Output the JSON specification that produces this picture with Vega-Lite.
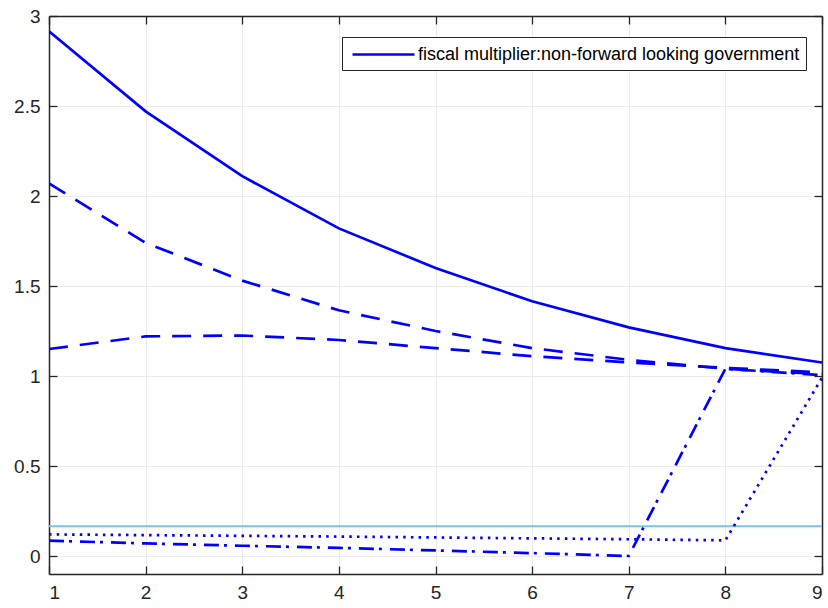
{
  "$schema": "https://vega.github.io/schema/vega-lite/v6.json",
  "width": 773,
  "height": 558,
  "autosize": {"type": "none"},
  "padding": {"left": 49, "top": 16, "right": 6, "bottom": 34},
  "background": "white",
  "config": {
    "view": {"stroke": null},
    "font": "Liberation Sans"
  },
  "datasets": {
    "lines": [
      {"x": 1, "y": 2.915, "s": "fiscal multiplier:non-forward looking government"},
      {"x": 2, "y": 2.47, "s": "fiscal multiplier:non-forward looking government"},
      {"x": 3, "y": 2.11, "s": "fiscal multiplier:non-forward looking government"},
      {"x": 4, "y": 1.82, "s": "fiscal multiplier:non-forward looking government"},
      {"x": 5, "y": 1.6, "s": "fiscal multiplier:non-forward looking government"},
      {"x": 6, "y": 1.415, "s": "fiscal multiplier:non-forward looking government"},
      {"x": 7, "y": 1.27, "s": "fiscal multiplier:non-forward looking government"},
      {"x": 8, "y": 1.155, "s": "fiscal multiplier:non-forward looking government"},
      {"x": 9, "y": 1.075, "s": "fiscal multiplier:non-forward looking government"}
    ],
    "others": [
      {"x": 1, "y": 2.07, "s": "dashA"},
      {"x": 2, "y": 1.74, "s": "dashA"},
      {"x": 3, "y": 1.53, "s": "dashA"},
      {"x": 4, "y": 1.365, "s": "dashA"},
      {"x": 5, "y": 1.25, "s": "dashA"},
      {"x": 6, "y": 1.155, "s": "dashA"},
      {"x": 7, "y": 1.09, "s": "dashA"},
      {"x": 8, "y": 1.04, "s": "dashA"},
      {"x": 9, "y": 1.01, "s": "dashA"},
      {"x": 1, "y": 1.15, "s": "dashB"},
      {"x": 2, "y": 1.22, "s": "dashB"},
      {"x": 3, "y": 1.225, "s": "dashB"},
      {"x": 4, "y": 1.2, "s": "dashB"},
      {"x": 5, "y": 1.155, "s": "dashB"},
      {"x": 6, "y": 1.11, "s": "dashB"},
      {"x": 7, "y": 1.075, "s": "dashB"},
      {"x": 8, "y": 1.045, "s": "dashB"},
      {"x": 9, "y": 1.02, "s": "dashB"},
      {"x": 1, "y": 0.085, "s": "dashdot"},
      {"x": 2, "y": 0.07, "s": "dashdot"},
      {"x": 3, "y": 0.057, "s": "dashdot"},
      {"x": 4, "y": 0.045, "s": "dashdot"},
      {"x": 5, "y": 0.031, "s": "dashdot"},
      {"x": 6, "y": 0.016, "s": "dashdot"},
      {"x": 7, "y": 0.0, "s": "dashdot"},
      {"x": 8, "y": 1.04, "s": "dashdot"},
      {"x": 9, "y": 1.005, "s": "dashdot"},
      {"x": 1, "y": 0.12, "s": "dot"},
      {"x": 2, "y": 0.116, "s": "dot"},
      {"x": 3, "y": 0.112, "s": "dot"},
      {"x": 4, "y": 0.108, "s": "dot"},
      {"x": 5, "y": 0.103, "s": "dot"},
      {"x": 6, "y": 0.098, "s": "dot"},
      {"x": 7, "y": 0.093, "s": "dot"},
      {"x": 8, "y": 0.087, "s": "dot"},
      {"x": 9, "y": 0.99, "s": "dot"}
    ],
    "ref": [{"y": 0.165}]
  },
  "layer": [
    {
      "data": {"name": "ref"},
      "mark": {"type": "rule", "color": "#72c7f0", "strokeWidth": 2},
      "encoding": {
        "y": {"field": "y", "type": "quantitative", "scale": {"domain": [-0.1, 3], "nice": false, "zero": false},
              "axis": {"orient": "right", "labels": false, "grid": false, "values": [0, 0.5, 1, 1.5, 2, 2.5, 3],
                       "tickSize": -8, "tickColor": "#262626", "tickWidth": 1.3, "domainColor": "#262626", "domainWidth": 1.5, "title": null}}
      }
    },
    {
      "data": {"name": "others"},
      "mark": {"type": "line", "color": "#0000ff", "strokeWidth": 2.7, "clip": true},
      "encoding": {
        "x": {"field": "x", "type": "quantitative", "scale": {"domain": [1, 9], "nice": false, "zero": false},
              "axis": {"orient": "top", "labels": false, "grid": false, "values": [1, 2, 3, 4, 5, 6, 7, 8, 9],
                       "tickSize": -8, "tickColor": "#262626", "tickWidth": 1.3, "domainColor": "#262626", "domainWidth": 1.5, "title": null}},
        "y": {"field": "y", "type": "quantitative", "scale": {"domain": [-0.1, 3], "nice": false, "zero": false}, "axis": null},
        "detail": {"field": "s"},
        "strokeDash": {"field": "s", "type": "nominal", "legend": null,
          "scale": {"domain": ["dashA", "dashB", "dashdot", "dot"], "range": [[19, 12], [19, 12], [15, 5, 3, 8], [2.5, 5.2]]}}
      }
    },
    {
      "data": {"name": "lines"},
      "mark": {"type": "line", "strokeWidth": 2.7, "clip": true},
      "encoding": {
        "x": {"field": "x", "type": "quantitative", "scale": {"domain": [1, 9], "nice": false, "zero": false},
              "axis": {"orient": "bottom", "grid": true, "gridColor": "#ebebeb", "values": [1, 2, 3, 4, 5, 6, 7, 8, 9],
                       "labelPadding": 17, "labelFontSize": 19, "labelColor": "#262626", "labelFont": "Liberation Sans",
                       "tickSize": -8, "tickColor": "#262626", "tickWidth": 1.3, "domainColor": "#262626", "domainWidth": 1.5, "title": null}},
        "y": {"field": "y", "type": "quantitative", "scale": {"domain": [-0.1, 3], "nice": false, "zero": false},
              "axis": {"orient": "left", "grid": true, "gridColor": "#ebebeb", "values": [0, 0.5, 1, 1.5, 2, 2.5, 3], "format": "~g",
                       "labelPadding": 17, "labelFontSize": 19, "labelColor": "#262626", "labelFont": "Liberation Sans",
                       "tickSize": -8, "tickColor": "#262626", "tickWidth": 1.3, "domainColor": "#262626", "domainWidth": 1.5, "title": null}},
        "color": {"field": "s", "type": "nominal", "title": null,
          "scale": {"range": ["#0000ff"]},
          "legend": {"orient": "none", "legendX": 293, "legendY": 21, "symbolType": "M-0.7,0H5.5", "symbolSize": 400,
                     "symbolStrokeWidth": 2.7, "labelFontSize": 18, "labelColor": "#000000", "labelFont": "Liberation Sans",
                     "strokeColor": "#262626", "fillColor": "white", "padding": 6, "labelLimit": 600, "labelOffset": 47}}
      }
    }
  ],
  "resolve": {"axis": {"x": "independent", "y": "independent"}}
}
